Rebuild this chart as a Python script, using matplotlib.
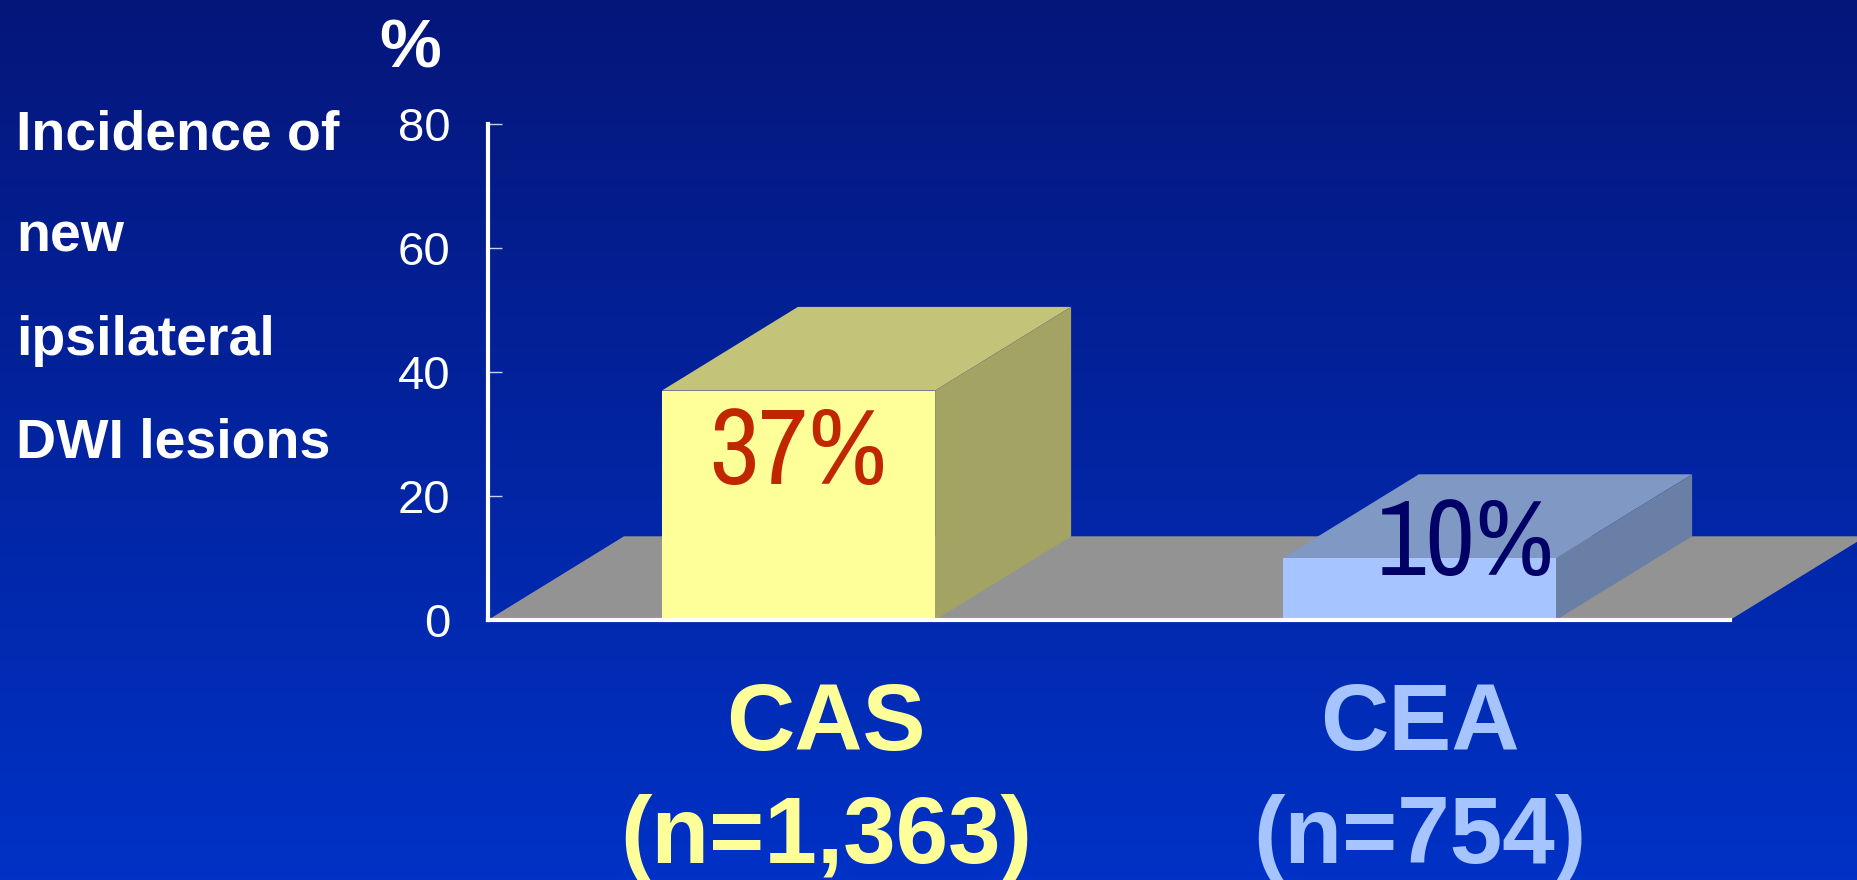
import numpy as np
import matplotlib
matplotlib.use('Agg')
import matplotlib.pyplot as plt
from matplotlib.patches import Polygon, Rectangle
from matplotlib import font_manager

# data
groups = ['CAS', 'CEA']
sizes = ['(n=1,363)', '(n=754)']
incidence = [37, 10]
y_ticks = [0, 20, 40, 60, 80]
side_label = ['Incidence of', 'new', 'ipsilateral', 'DWI lesions']

# styles
front_colors = ['#FFFF99', '#A6C4FF']
top_colors = ['#C3C37A', '#7F98C4']
side_colors = ['#A3A363', '#6A7FA6']
value_colors = ['#C02600', '#000066']
group_colors = ['#FFFF99', '#A6C4FF']
value_offsets = [(0.0, -15.1), (0.075, -2.7)]
group_dx = [0.044, 0.0]

installed = {f.name for f in font_manager.fontManager.ttflist}
narrow = next((n for n in ['Liberation Sans Narrow', 'Archivo Narrow'] if n in installed),
              'Liberation Sans')
plt.rcParams['font.family'] = ['Liberation Sans', 'DejaVu Sans']

W, H = 1858, 880
fig = plt.figure(figsize=(W / 100, H / 100), dpi=100)

# blue gradient background
bg = fig.add_axes([0, 0, 1, 1], zorder=-5)
top_rgb = np.array([5, 22, 122]) / 255
bot_rgb = np.array([0, 50, 198]) / 255
t = np.linspace(0, 1, 256)[:, None]
grad = top_rgb[None, :] * (1 - t) + bot_rgb[None, :] * t
bg.imshow(grad[:, None, :], aspect='auto', extent=[0, 1, 0, 1])
bg.set_axis_off()

ax = fig.add_axes([488 / W, 260 / H, 1242 / W, 496 / H])
ax.patch.set_alpha(0)
ax.set_xlim(0, 2)
ax.set_ylim(0, 80)

width = 0.44
depth_x = 0.219
depth_y = 13.5
centers = np.arange(len(groups)) + 0.5

# floor of the 3D box
floor = Polygon([(0, 0), (2, 0), (2 + depth_x, depth_y), (depth_x, depth_y)],
                closed=True, facecolor='#939393', edgecolor='none', zorder=1, clip_on=False)
ax.add_patch(floor)

for i, (xc, v) in enumerate(zip(centers, incidence)):
    x0, x1 = xc - width / 2, xc + width / 2
    top = Polygon([(x0, v), (x1, v), (x1 + depth_x, v + depth_y), (x0 + depth_x, v + depth_y)],
                  closed=True, facecolor=top_colors[i], edgecolor='none', zorder=2, clip_on=False)
    side = Polygon([(x1, 0), (x1 + depth_x, depth_y), (x1 + depth_x, v + depth_y), (x1, v)],
                   closed=True, facecolor=side_colors[i], edgecolor='none', zorder=2, clip_on=False)
    front = Rectangle((x0, 0), width, v, facecolor=front_colors[i], edgecolor='none',
                      zorder=2, clip_on=False)
    ax.add_patch(top)
    ax.add_patch(side)
    ax.add_patch(front)

    dx, dy = value_offsets[i]
    ax.text(xc + dx, v + dy, f'{v}%', ha='center', va='baseline', fontsize=78,
            family=[narrow, 'DejaVu Sans'], color=value_colors[i], zorder=4, clip_on=False)

    ax.text(xc + group_dx[i], -21, groups[i], ha='center', va='baseline', fontsize=68,
            fontweight='bold', color=group_colors[i], clip_on=False)
    ax.text(xc + group_dx[i], -39.2, sizes[i], ha='center', va='baseline', fontsize=68,
            fontweight='bold', color=group_colors[i], clip_on=False)

for s in ['top', 'right']:
    ax.spines[s].set_visible(False)
for s in ['left', 'bottom']:
    ax.spines[s].set_color('white')
    ax.spines[s].set_linewidth(3)
    ax.spines[s].set_zorder(3)

ax.set_xticks([])
ax.set_yticks(y_ticks)
ax.set_yticklabels([str(v) for v in y_ticks])
ax.tick_params(axis='y', direction='in', length=10, width=1, color='#c8d0f0',
               pad=27, labelsize=34, labelcolor='white')

# axis title and side caption
fig.text(410 / W, 1 - 68 / H, '%', ha='center', va='baseline', fontsize=50,
         fontweight='bold', color='white')
for line, yb in zip(side_label, [150, 252, 355, 457]):
    fig.text(16 / W, 1 - yb / H, line, ha='left', va='baseline', fontsize=40,
             fontweight='bold', color='white')

fig.savefig('out.png', dpi=100)
